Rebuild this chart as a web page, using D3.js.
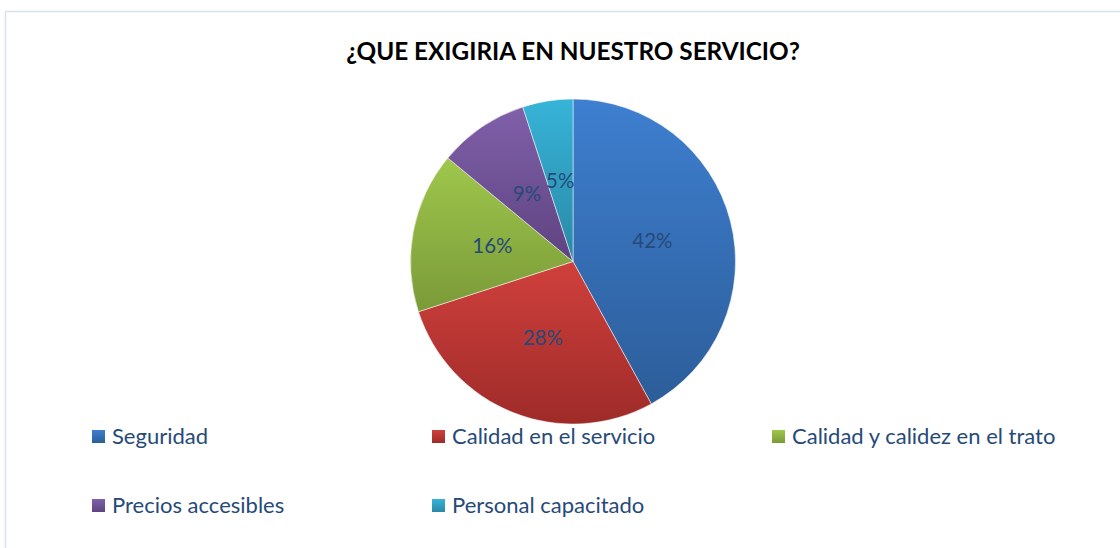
<!DOCTYPE html>
<html><head><meta charset="utf-8">
<script src="https://cdn.jsdelivr.net/npm/d3@7"></script>
<style>body{margin:0;background:#fff}svg{display:block}</style>
</head><body>
<script>
const categories = ["Seguridad","Calidad en el servicio","Calidad y calidez en el trato","Precios accesibles","Personal capacitado"];
const values = [42,28,16,9,5];
const labels = ["42%","28%","16%","9%","5%"];
const colorsTop = ["#3e7fd0","#d0403c","#9fc74c","#8060aa","#36b4d8"];
const colorsBottom = ["#2c5d99","#9e2b29","#7a9a38","#5e4380","#2a88a6"];
const title = "¿QUE EXIGIRIA EN NUESTRO SERVICIO?";

const W=1120,H=548;
const svg=d3.select("body").append("svg").attr("width",W).attr("height",H);
svg.append("rect").attr("x",5.5).attr("y",11.5).attr("width",1130).attr("height",560)
  .attr("fill","#fff").attr("stroke","#d6e4f0").attr("stroke-width",1.5);

svg.append("text").attr("x",573).attr("y",60).attr("text-anchor","middle")
  .attr("font-family","Lato, 'Open Sans', sans-serif").attr("font-weight","bold")
  .attr("font-size",24.3).attr("fill","#000").text(title);

const cx=573, cy=261.5, R=162.5;
const defs=svg.append("defs");
categories.forEach((c,i)=>{
  const g=defs.append("linearGradient").attr("id","g"+i).attr("x1",0).attr("y1",0).attr("x2",0).attr("y2",1);
  g.append("stop").attr("offset","0%").attr("stop-color",colorsTop[i]);
  g.append("stop").attr("offset","100%").attr("stop-color",colorsBottom[i]);
});
const pie=d3.pie().sort(null).value(d=>d)(values);
const arc=d3.arc().innerRadius(0).outerRadius(R);
const labelArc=d3.arc().innerRadius(82).outerRadius(82);
const gp=svg.append("g").attr("transform",`translate(${cx},${cy})`);
gp.selectAll("path").data(pie).join("path").attr("d",arc)
  .attr("fill",(d,i)=>`url(#g${i})`).attr("stroke","#fff").attr("stroke-width",0.5);
gp.selectAll("text").data(pie).join("text")
  .attr("transform",d=>`translate(${labelArc.centroid(d)})`)
  .attr("text-anchor","middle").attr("dy","0.35em")
  .attr("font-family","Lato, 'Open Sans', sans-serif").attr("font-size",20.5)
  .attr("fill","#264a78").text((d,i)=>labels[i]);

const legX=[92,432,772], legY=[436,505];
const lg=svg.append("g");
categories.forEach((c,i)=>{
  const x=legX[i%3], y=legY[Math.floor(i/3)];
  lg.append("rect").attr("x",x).attr("y",y-6).attr("width",13).attr("height",13).attr("fill",`url(#g${i})`);
  lg.append("text").attr("x",x+20).attr("y",y).attr("dy","0.35em")
    .attr("font-family","Lato, 'Open Sans', sans-serif").attr("font-size",22)
    .attr("fill","#264a78").text(c);
});
</script>
</body></html>
